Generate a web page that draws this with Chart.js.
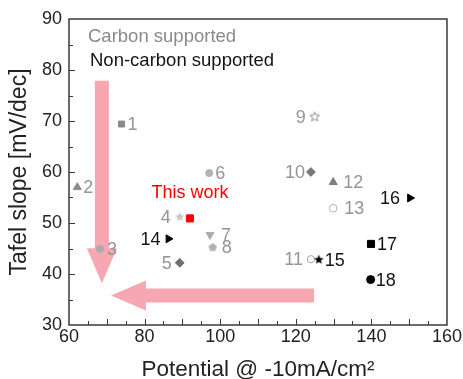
<!DOCTYPE html>
<html>
<head>
<meta charset="utf-8">
<script src="https://cdn.jsdelivr.net/npm/chart.js@4/dist/chart.umd.min.js"></script>
<style>
  html, body { margin: 0; padding: 0; background: #ffffff; }
  #wrap { width: 463px; height: 379px; }
</style>
</head>
<body>
<div id="wrap"><canvas id="chart" width="463" height="379"></canvas></div>
<script>
// ---- data ----
const sampleIds = ['1','2','3','4','5','6','7','8','9','10','11','12','13','14','15','16','17','18','This work'];
const potentials = [73.9, 62.2, 68.2, 89.3, 89.3, 97.1, 97.3, 98.0, 125.0, 124.0, 124.0, 129.9, 129.9, 86.3, 126.1, 150.2, 139.9, 139.8, 92.0];
const tafelSlopes = [69.4, 57.0, 44.9, 51.2, 42.2, 59.8, 47.7, 45.2, 70.8, 60.0, 42.9, 58.0, 52.9, 46.9, 42.8, 54.9, 45.9, 38.9, 50.9];
const supportTypes = ['carbon','carbon','carbon','carbon','carbon','carbon','carbon','carbon','carbon','carbon','carbon','carbon','carbon',
                      'noncarbon','noncarbon','noncarbon','noncarbon','noncarbon','this'];
const xTickValues = [60, 80, 100, 120, 140, 160];
const yTickValues = [30, 40, 50, 60, 70, 80, 90];
const groupCaptions = ['Carbon supported', 'Non-carbon supported'];
// trend arrows, in axis units: [x1, y1, x2, y2]
const trendArrows = [
  [68.7, 77.9, 68.7, 38.2],
  [124.8, 35.8, 71.1, 35.8]
];

// ---- styles ----
const FONT = '"Liberation Sans", Arial, Helvetica, sans-serif';
const GREY_TEXT = '#959595';
const DARK_TEXT = '#141414';
const ARROW_COLOR = 'rgba(245, 160, 170, 0.92)';
const ARROW_SHAFT = 14, ARROW_HEAD_W = 30, ARROW_HEAD_L = 35;

const markerStyles = {
  '1':  { shape: 'rect', r: 4.2, fill: '#8a8a8a' },
  '2':  { shape: 'triangle', r: 4.6, fill: '#8a8a8a' },
  '3':  { shape: 'circle', r: 3.6, fill: '#ababab' },
  '4':  { shape: 'star', r: 5, fill: '#c6c6c6' },
  '5':  { shape: 'rectRot', r: 4.4, fill: '#6e6e6e' },
  '6':  { shape: 'circle', r: 3.6, fill: '#b4b4b4' },
  '7':  { shape: 'triangle', rot: 180, r: 4.6, fill: '#ababab' },
  '8':  { shape: 'pentagon', r: 4.4, fill: '#b0b0b0' },
  '9':  { shape: 'star', r: 5, fill: '#ffffff', stroke: '#8c8c8c' },
  '10': { shape: 'rectRot', r: 4.4, fill: '#777777' },
  '11': { shape: 'circle', r: 3.6, fill: '#ffffff', stroke: '#a4a4a4' },
  '12': { shape: 'triangle', r: 4.6, fill: '#7e7e7e' },
  '13': { shape: 'circle', r: 3.8, fill: '#ffffff', stroke: '#b4b4b4' },
  '14': { shape: 'triangle', rot: 90, r: 4.6, fill: '#000000' },
  '15': { shape: 'star', r: 5, fill: '#000000' },
  '16': { shape: 'triangle', rot: 90, r: 4.6, fill: '#000000' },
  '17': { shape: 'rect', r: 5, fill: '#000000' },
  '18': { shape: 'circle', r: 4, fill: '#000000' },
  'This work': { shape: 'rect', r: 5, fill: '#ff0000' }
};

// side of the number label and gap in px
const labelPlacement = {
  '1': ['right', 6], '2': ['right', 6], '3': ['right', 7], '4': ['left', 9], '5': ['left', 8],
  '6': ['right', 6], '7': ['right', 11], '8': ['right', 9], '9': ['left', 9], '10': ['left', 6],
  '11': ['left', 8], '12': ['right', 10], '13': ['right', 11], '14': ['left', 8], '15': ['right', 6],
  '16': ['left', 10], '17': ['right', 6], '18': ['right', 5], 'This work': ['above', 25]
};

function shapeCanvas(kind, r, fill, stroke) {
  const size = Math.ceil(2 * r + 3);
  const cv = document.createElement('canvas');
  cv.width = size; cv.height = size;
  const c = cv.getContext('2d');
  const cx = size / 2, cy = size / 2;
  c.beginPath();
  if (kind === 'star') {
    for (let i = 0; i < 10; i++) {
      const rad = (i % 2 === 0) ? r : r * 0.45;
      const a = -Math.PI / 2 + i * Math.PI / 5;
      const px = cx + rad * Math.cos(a), py = cy + rad * Math.sin(a);
      i === 0 ? c.moveTo(px, py) : c.lineTo(px, py);
    }
  } else {
    for (let i = 0; i < 5; i++) {
      const a = -Math.PI / 2 + i * 2 * Math.PI / 5;
      const px = cx + r * Math.cos(a), py = cy + r * Math.sin(a);
      i === 0 ? c.moveTo(px, py) : c.lineTo(px, py);
    }
  }
  c.closePath();
  c.fillStyle = fill;
  c.fill();
  if (stroke) { c.strokeStyle = stroke; c.lineWidth = 1; c.stroke(); }
  return cv;
}

const pointStyleList = [], radiusList = [], rotationList = [], fillList = [], borderList = [];
sampleIds.forEach(id => {
  const s = markerStyles[id];
  if (s.shape === 'star' || s.shape === 'pentagon') {
    pointStyleList.push(shapeCanvas(s.shape, s.r, s.fill, s.stroke));
  } else {
    pointStyleList.push(s.shape);
  }
  radiusList.push(s.r);
  rotationList.push(s.rot || 0);
  fillList.push(s.fill);
  borderList.push(s.stroke || s.fill);
});

const points = potentials.map((x, i) => ({ x: x, y: tafelSlopes[i] }));

// arrows under the markers
const arrowPlugin = {
  id: 'trendArrows',
  beforeDatasetsDraw(chart) {
    const { ctx, scales: { x, y } } = chart;
    ctx.save();
    ctx.fillStyle = ARROW_COLOR;
    trendArrows.forEach(([x1, y1, x2, y2]) => {
      const ax = x.getPixelForValue(x1), ay = y.getPixelForValue(y1);
      const bx = x.getPixelForValue(x2), by = y.getPixelForValue(y2);
      const len = Math.hypot(bx - ax, by - ay);
      const ang = Math.atan2(by - ay, bx - ax);
      ctx.save();
      ctx.translate(ax, ay);
      ctx.rotate(ang);
      ctx.beginPath();
      ctx.moveTo(0, -ARROW_SHAFT / 2);
      ctx.lineTo(len - ARROW_HEAD_L, -ARROW_SHAFT / 2);
      ctx.lineTo(len - ARROW_HEAD_L, -ARROW_HEAD_W / 2);
      ctx.lineTo(len, 0);
      ctx.lineTo(len - ARROW_HEAD_L, ARROW_HEAD_W / 2);
      ctx.lineTo(len - ARROW_HEAD_L, ARROW_SHAFT / 2);
      ctx.lineTo(0, ARROW_SHAFT / 2);
      ctx.closePath();
      ctx.fill();
      ctx.restore();
    });
    ctx.restore();
  }
};

// frame, inward ticks, point labels and group captions
const decorPlugin = {
  id: 'decor',
  afterDatasetsDraw(chart) {
    const { ctx, chartArea: a, scales: { x, y } } = chart;
    ctx.save();
    // frame
    ctx.strokeStyle = '#3a3a3a';
    ctx.lineWidth = 1.5;
    ctx.strokeRect(a.left, a.top, a.right - a.left, a.bottom - a.top);
    // ticks every 5 units, pointing inward
    ctx.lineWidth = 1;
    ctx.strokeStyle = '#3a3a3a';
    for (let v = x.min + 5; v < x.max; v += 5) {
      const px = Math.round(x.getPixelForValue(v)) + 0.5;
      const len = v % 10 === 0 ? 6 : 4;
      ctx.beginPath(); ctx.moveTo(px, a.bottom); ctx.lineTo(px, a.bottom - len); ctx.stroke();
    }
    for (let v = y.min + 5; v < y.max; v += 5) {
      const py = Math.round(y.getPixelForValue(v)) + 0.5;
      const len = v % 10 === 0 ? 6 : 4;
      ctx.beginPath(); ctx.moveTo(a.left, py); ctx.lineTo(a.left + len, py); ctx.stroke();
    }
    // labels next to markers
    ctx.font = '18px ' + FONT;
    ctx.textBaseline = 'middle';
    sampleIds.forEach((id, i) => {
      const px = x.getPixelForValue(potentials[i]);
      const py = y.getPixelForValue(tafelSlopes[i]);
      const [side, gap] = labelPlacement[id];
      const type = supportTypes[i];
      ctx.fillStyle = type === 'this' ? '#ff0000' : (type === 'carbon' ? GREY_TEXT : DARK_TEXT);
      if (side === 'right') { ctx.textAlign = 'left'; ctx.fillText(id, px + gap, py + 1); }
      else if (side === 'left') { ctx.textAlign = 'right'; ctx.fillText(id, px - gap, py + 1); }
      else { ctx.textAlign = 'center'; ctx.fillText(id, px, py - gap); }
    });
    // group captions
    ctx.font = '18.5px ' + FONT;
    ctx.textAlign = 'left';
    ctx.fillStyle = '#8a8a8a';
    ctx.fillText(groupCaptions[0], a.left + 19, a.top + 18);
    ctx.fillStyle = DARK_TEXT;
    ctx.fillText(groupCaptions[1], a.left + 21, a.top + 42);
    ctx.restore();
  }
};

new Chart(document.getElementById('chart'), {
  type: 'scatter',
  data: {
    datasets: [{
      data: points,
      pointStyle: pointStyleList,
      pointRadius: radiusList,
      pointRotation: rotationList,
      pointBackgroundColor: fillList,
      pointBorderColor: borderList,
      pointBorderWidth: 1,
      showLine: false
    }]
  },
  options: {
    responsive: false,
    animation: false,
    devicePixelRatio: 1,
    events: [],
    layout: { padding: { top: 19, right: 16, left: 0, bottom: 0 } },
    plugins: { legend: { display: false }, tooltip: { enabled: false } },
    scales: {
      x: {
        type: 'linear', min: 60, max: 160,
        afterBuildTicks: s => { s.ticks = xTickValues.map(v => ({ value: v })); },
        afterFit: s => { s.height = 54; },
        grid: { display: false, drawTicks: false },
        border: { display: false },
        ticks: { color: '#222', font: { family: FONT, size: 18 }, padding: 1, maxRotation: 0 },
        title: { display: true, text: 'Potential @ -10mA/cm\u00B2', color: '#222',
                 font: { family: FONT, size: 22.5, lineHeight: 0.8 }, padding: { top: 0, bottom: 0 } }
      },
      y: {
        type: 'linear', min: 30, max: 90,
        afterBuildTicks: s => { s.ticks = yTickValues.map(v => ({ value: v })); },
        afterFit: s => { s.width = 69; },
        grid: { display: false, drawTicks: false },
        border: { display: false },
        ticks: { color: '#222', font: { family: FONT, size: 18 }, padding: 7 },
        title: { display: true, text: 'Tafel slope [mV/dec]', color: '#222',
                 font: { family: FONT, size: 23, lineHeight: 1 }, padding: { top: 8, bottom: 0 } }
      }
    }
  },
  plugins: [arrowPlugin, decorPlugin]
});
</script>
</body>
</html>
